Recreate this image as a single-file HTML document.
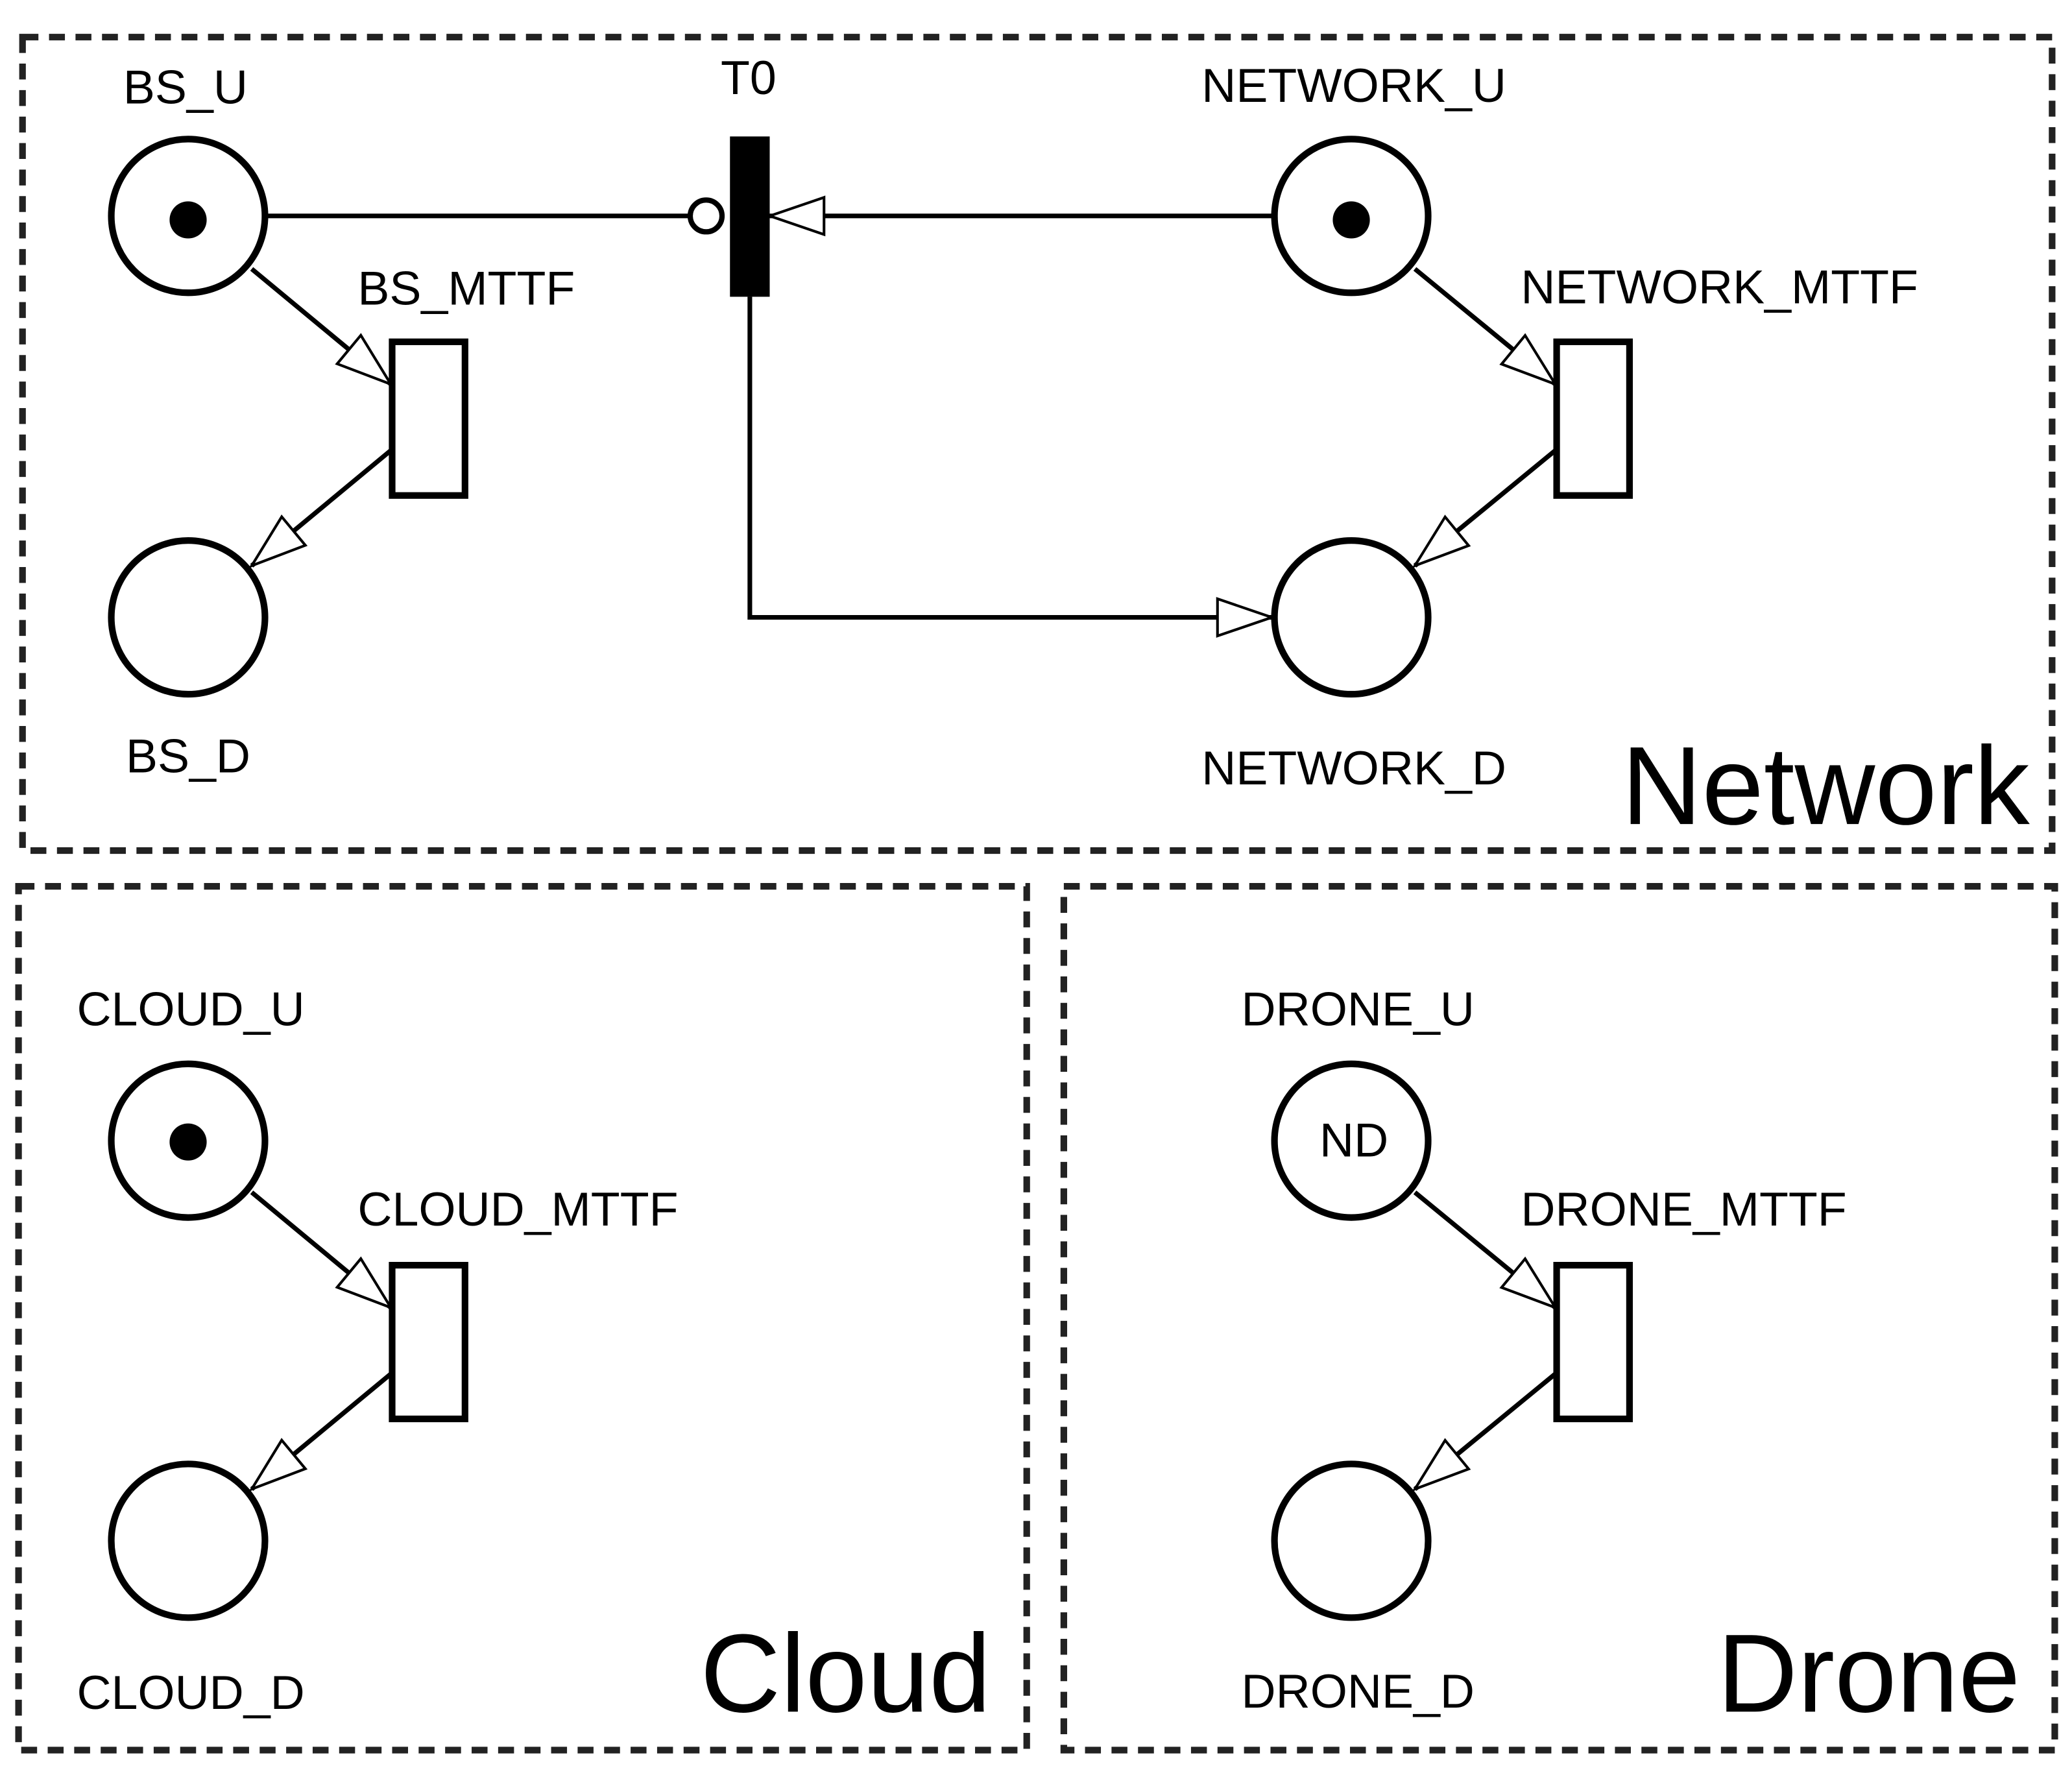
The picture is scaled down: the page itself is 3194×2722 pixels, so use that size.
<!DOCTYPE html>
<html><head><meta charset="utf-8"><style>
html,body{margin:0;padding:0;background:#fff;}
svg{display:block;}
text{font-family:"Liberation Sans",sans-serif;fill:#000;}
</style></head><body>
<svg width="3194" height="2722" viewBox="0 0 1564 1333" preserveAspectRatio="none" xmlns="http://www.w3.org/2000/svg">
<defs>
<marker id="a" markerUnits="userSpaceOnUse" markerWidth="50" markerHeight="34" refX="44" refY="17" orient="auto" viewBox="0 0 50 34">
<path d="M44,17 L3,3 L3,31 Z" fill="#fff" stroke="#000" stroke-width="2"/>
</marker>
</defs>
<g fill="none" stroke="#222" stroke-width="5" stroke-dasharray="12,8">
<rect x="17" y="28" width="1532" height="614"/>
<rect x="14" y="669" width="761" height="652"/>
<rect x="803" y="669" width="748" height="652"/>
</g>
<g fill="#fff" stroke="#000" stroke-width="5">
<circle cx="142" cy="163" r="58"/>
<circle cx="142" cy="466" r="58"/>
<circle cx="1020" cy="163" r="58"/>
<circle cx="1020" cy="466" r="58"/>
<circle cx="142" cy="861" r="58"/>
<circle cx="142" cy="1163" r="58"/>
<circle cx="1020" cy="861" r="58"/>
<circle cx="1020" cy="1163" r="58"/>
<rect x="296" y="258" width="55" height="116"/>
<rect x="1175" y="258" width="55" height="116"/>
<rect x="296" y="955" width="55" height="116"/>
<rect x="1175" y="955" width="55" height="116"/>
</g>
<g fill="#000">
<circle cx="142" cy="166" r="14"/>
<circle cx="1020" cy="166" r="14"/>
<circle cx="142" cy="862" r="14"/>
<rect x="551" y="103" width="30" height="121"/>
</g>
<g stroke="#000" stroke-width="3.5" fill="none">
<line x1="201" y1="163" x2="520" y2="163"/>
<circle cx="533" cy="163" r="12" fill="#fff" stroke-width="4"/>
<line x1="961" y1="163" x2="581" y2="163" marker-end="url(#a)"/>
<polyline points="566,224 566,466 960,466" marker-end="url(#a)"/>
<line x1="190" y1="203" x2="295" y2="290" marker-end="url(#a)"/>
<line x1="295" y1="340" x2="190" y2="427" marker-end="url(#a)"/>
<line x1="1068" y1="203" x2="1174" y2="290" marker-end="url(#a)"/>
<line x1="1174" y1="340" x2="1068" y2="427" marker-end="url(#a)"/>
<line x1="190" y1="900" x2="295" y2="987" marker-end="url(#a)"/>
<line x1="295" y1="1037" x2="190" y2="1124" marker-end="url(#a)"/>
<line x1="1068" y1="900" x2="1174" y2="987" marker-end="url(#a)"/>
<line x1="1174" y1="1037" x2="1068" y2="1124" marker-end="url(#a)"/>
</g>
<g font-size="36">
<text x="140" y="78" text-anchor="middle">BS_U</text>
<text x="565" y="71" text-anchor="middle">T0</text>
<text x="1022" y="77" text-anchor="middle">NETWORK_U</text>
<text x="270" y="230">BS_MTTF</text>
<text x="1148" y="229">NETWORK_MTTF</text>
<text x="142" y="583" text-anchor="middle">BS_D</text>
<text x="1022" y="592" text-anchor="middle">NETWORK_D</text>
<text x="144" y="774" text-anchor="middle">CLOUD_U</text>
<text x="270" y="925">CLOUD_MTTF</text>
<text x="144" y="1290" text-anchor="middle">CLOUD_D</text>
<text x="1025" y="774" text-anchor="middle">DRONE_U</text>
<text x="1148" y="925">DRONE_MTTF</text>
<text x="1025" y="1289" text-anchor="middle">DRONE_D</text>
<text x="1022" y="873" text-anchor="middle">ND</text>
</g>
<g font-size="84" fill="#222">
<text x="1532" y="622" text-anchor="end">Network</text>
<text x="748" y="1292" text-anchor="end">Cloud</text>
<text x="1525" y="1292" text-anchor="end">Drone</text>
</g>
</svg>
</body></html>
